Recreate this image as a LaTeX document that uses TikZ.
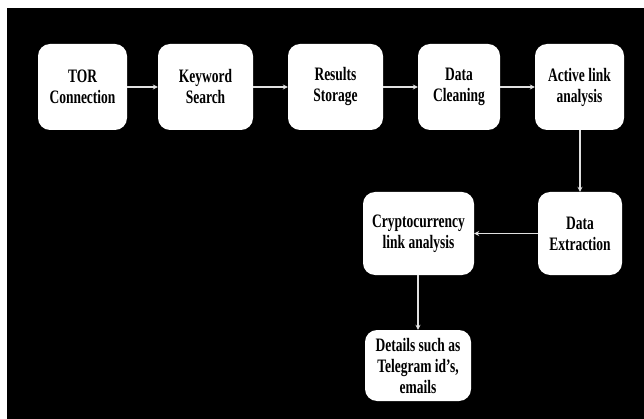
\documentclass[tikz,border=0pt]{standalone}
\usepackage{fontspec}
\setmainfont{Liberation Serif}[FakeStretch=0.71]
\usetikzlibrary{arrows.meta}
\begin{document}
\begin{tikzpicture}[x=1pt,y=-1pt,
  stepbox/.style={fill=white, rounded corners=12pt, align=center, inner sep=0pt,
    font=\fontsize{19}{21}\selectfont\bfseries, text=black},
  flow/.style={draw=white!88!black, line width=1.3pt, -{Stealth[length=5pt,width=5pt]}}]
\useasboundingbox (0,0) rectangle (644,419);
\fill[white] (0,0) rectangle (644,419);
\fill[black] (7,8) rectangle (644,419);
\node[stepbox, minimum width=89pt, minimum height=86pt] (tor) at (82.5,87) {TOR\\Connection};
\node[stepbox, minimum width=95pt, minimum height=86pt] (kw) at (205.5,87) {Keyword\\Search};
\node[stepbox, minimum width=95pt, minimum height=86pt] (res) at (335.5,87) {Results\\Storage};
\node[stepbox, minimum width=82pt, minimum height=86pt] (clean) at (459,87) {Data\\Cleaning};
\node[stepbox, minimum width=89pt, minimum height=86pt] (act) at (579.5,87) {Active link\\analysis};
\node[stepbox, minimum width=84pt, minimum height=83pt] (ext) at (580,233.5) {Data\\Extraction};
\node[stepbox, minimum width=111pt, minimum height=83pt] (cry) at (418.5,233.5) {Cryptocurrency\\link analysis};
\node[stepbox, minimum width=106pt, minimum height=71pt] (det) at (418,365.5) {Details such as\\Telegram id’s,\\emails};
\draw[flow] (tor) -- (kw);
\draw[flow] (kw) -- (res);
\draw[flow] (res) -- (clean);
\draw[flow] (clean) -- (act);
\draw[flow] (act.south -| ext.north) -- (ext.north);
\draw[flow] (ext) -- (cry);
\draw[flow] (cry.south -| det.north) -- (det.north);
\end{tikzpicture}
\end{document}
